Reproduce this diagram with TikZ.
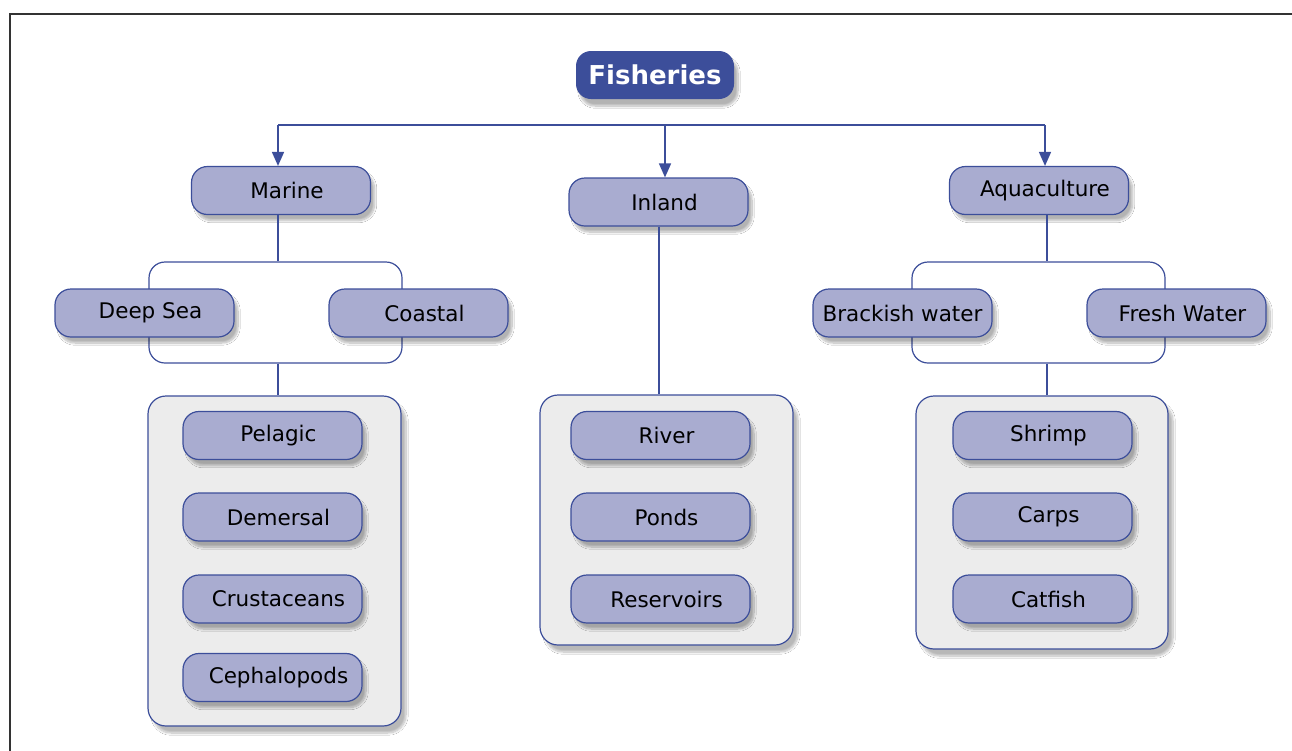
\documentclass[tikz,border=0pt]{standalone}
\usepackage{fontspec}
\setmainfont{DejaVu Sans}
\usetikzlibrary{arrows.meta,shadows.blur}
\definecolor{navy}{HTML}{3C4E9A}
\definecolor{lav}{HTML}{A9ACD0}
\definecolor{panel}{HTML}{ECECEC}
\definecolor{framec}{HTML}{333333}
\tikzset{
  plainbox/.style={draw=navy, line width=1.2pt, fill=lav, rounded corners=16pt,
    minimum width=179pt, minimum height=48pt, inner sep=0pt,
    font=\fontsize{21.5}{25}\selectfont,
    blur shadow={shadow xshift=4pt, shadow yshift=-6pt, shadow blur steps=10, shadow opacity=30}},
  box/.style={plainbox, execute at begin node=\hspace*{12pt}},
  title/.style={fill=navy, rounded corners=15pt, minimum width=158pt, minimum height=48pt,
    inner sep=0pt, text=white, font=\fontsize{26}{30}\bfseries\selectfont,
    blur shadow={shadow xshift=4pt, shadow yshift=-7pt, shadow blur steps=10, shadow opacity=30}},
  bracket/.style={draw=navy, line width=1.2pt, rounded corners=16pt, inner sep=0pt},
  panelbox/.style={draw=navy, line width=1.2pt, fill=panel, rounded corners=18pt, inner sep=0pt,
    blur shadow={shadow xshift=5pt, shadow yshift=-7pt, shadow blur steps=10, shadow opacity=28}},
  link/.style={draw=navy, line width=1.6pt},
  arr/.style={link, -{Triangle[length=14pt,width=12pt]}}
}
\begin{document}
\begin{tikzpicture}[x=1pt,y=-1pt]
  \useasboundingbox (0,0) rectangle (1292,750);
  \fill[white] (0,0) rectangle (1292,750);
  % outer frame
  \coordinate (fc) at (10,14);
  \draw[framec, line width=2pt] (fc |- 0,751) -- (fc) -- (1293,14);

  % title
  \node[title] (fish) at (655,75) {Fisheries};

  % first level
  \node[box] (marine) at (281,190.5) {Marine};
  \node[box] (inland) at (658.5,202) {Inland};
  \node[box] (aqua) at (1039,190.5) {Aquaculture};

  % bus with arrows
  \coordinate (bus) at (665,125);
  \coordinate (mcol) at (278,0);
  \coordinate (acol) at (1045,0);
  \coordinate (acol2) at (1047,0);
  \coordinate (icol) at (659,0);
  \draw[link] (bus -| mcol) -- (bus -| acol);
  \draw[arr] (bus -| mcol) -- (marine.north -| mcol);
  \draw[arr] (bus) -- (bus |- inland.north);
  \draw[arr] (bus -| acol) -- (aqua.north -| acol);

  % brackets behind second-level boxes
  \node[bracket, minimum width=253pt, minimum height=101pt] (mbr) at (275.5,312.5) {};
  \node[bracket, minimum width=253pt, minimum height=101pt] (abr) at (1038.5,312.5) {};

  % panels
  \node[panelbox, minimum width=253pt, minimum height=330pt] (mpan) at (274.5,561) {};
  \node[panelbox, minimum width=253pt, minimum height=250pt] (ipan) at (666.5,520) {};
  \node[panelbox, minimum width=252pt, minimum height=253pt] (apan) at (1042,522.5) {};

  % connectors
  \draw[link] (marine.south -| mcol) -- (mbr.north -| mcol);
  \draw[link] (mbr.south -| mcol) -- (mpan.north -| mcol);
  \draw[link] (inland.south -| icol) -- (ipan.north -| icol);
  \draw[link] (aqua.south -| acol2) -- (abr.north -| acol2);
  \draw[link] (abr.south -| acol2) -- (apan.north -| acol2);

  % second level
  \node[box] (deep) at (144.5,313) {Deep Sea};
  \node[box] (coast) at (418.5,313) {Coastal};
  \node[plainbox] (brack) at (902.5,313) {Brackish water};
  \node[box] (fresh) at (1176.5,313) {Fresh Water};

  % marine species
  \node[box] (pel) at (272.5,435.5) {Pelagic};
  \node[box] (dem) at (272.5,517) {Demersal};
  \node[box] (cru) at (272.5,599) {Crustaceans};
  \node[box] (cep) at (272.5,677.5) {Cephalopods};

  % inland waters
  \node[box] (riv) at (660.5,435.5) {River};
  \node[box] (pon) at (660.5,517) {Ponds};
  \node[box] (res) at (660.5,599) {Reservoirs};

  % cultured species
  \node[box] (shr) at (1042.5,435.5) {Shrimp};
  \node[box] (car) at (1042.5,517) {Carps};
  \node[box] (cat) at (1042.5,599) {Catfish};
\end{tikzpicture}
\end{document}
